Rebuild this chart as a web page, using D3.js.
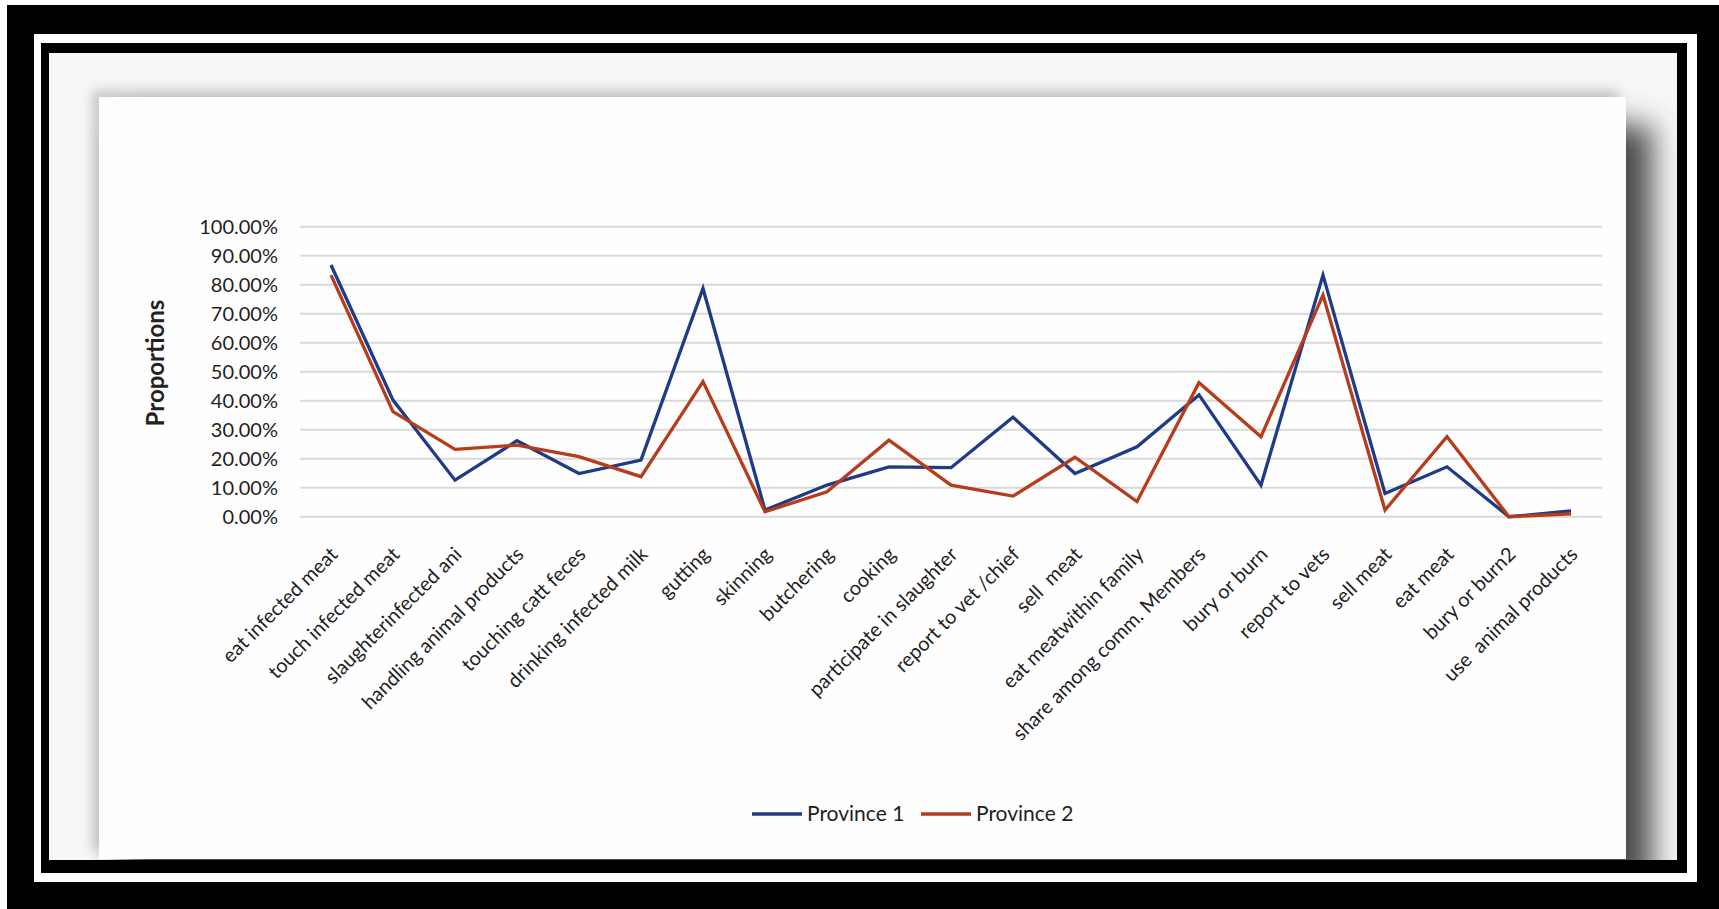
<!DOCTYPE html>
<html lang="en">
<head>
<meta charset="UTF-8">
<title>Proportions by province</title>
<style>
  html, body { margin: 0; padding: 0; background: #fff; }
  svg { display: block; }
  .narrow {
    font-family: Lato, Roboto, "DejaVu Sans Condensed", sans-serif;
    fill: #1f1f1f;
  }
  .axis-title {
    font-family: Lato, "Liberation Sans", Arial, sans-serif;
    font-weight: bold;
    fill: #222;
  }
</style>
</head>
<body>
<svg width="1719" height="909"></svg>
<script src="https://d3js.org/d3.v7.min.js"></script>
<script>
// categories on the x axis
const categories = [
    "eat infected meat", "touch infected meat", "slaughterinfected ani", "handling animal products",
    "touching catt feces", "drinking infected milk", "gutting", "skinning", "butchering", "cooking",
    "participate in slaughter", "report to vet /chief", "sell  meat", "eat meatwithin family",
    "share among comm. Members", "bury or burn", "report to vets", "sell meat", "eat meat",
    "bury or burn2", "use  animal products"
];

// values in percent
const province1 = [86.8, 40.2, 12.6, 26.2, 14.9, 19.5, 78.7, 2.3, 10.9, 17.2, 16.9, 34.3, 14.9, 24.1, 42.0, 10.9, 83.3, 8.0, 17.2, 0.0, 2.0];
const province2 = [83.3, 36.2, 23.2, 24.7, 20.7, 13.8, 46.6, 1.7, 8.6, 26.4, 10.9, 7.1, 20.5, 5.2, 46.2, 27.6, 76.4, 2.3, 27.6, 0.0, 1.0];

const yTicks = [0, 10, 20, 30, 40, 50, 60, 70, 80, 90, 100];
const seriesNames = ["Province 1", "Province 2"];
const seriesColors = ["#1f3a87", "#b63c1c"];

const W = 1719, H = 909;
const svg = d3.select('svg');
const defs = svg.append('defs');

// ---- picture frame ----
svg.append('rect').attr('x', 7).attr('y', 5).attr('width', W - 7).attr('height', H - 5).attr('fill', '#000');
svg.append('rect').attr('x', 34).attr('y', 34).attr('width', 1663).attr('height', 848).attr('fill', '#fff');
svg.append('rect').attr('x', 41).attr('y', 43).attr('width', 1646).attr('height', 830).attr('fill', '#000');
svg.append('rect').attr('x', 49).attr('y', 53).attr('width', 1628).attr('height', 807).attr('fill', '#f7f7f7');

defs.append('clipPath').attr('id', 'inner')
    .append('rect').attr('x', 49).attr('y', 53).attr('width', 1628).attr('height', 807);

const soft = defs.append('filter').attr('id', 'soft')
    .attr('x', '-10%').attr('y', '-10%').attr('width', '120%').attr('height', '120%');
soft.append('feGaussianBlur').attr('stdDeviation', 6);

const heavy = defs.append('filter').attr('id', 'heavy')
    .attr('x', '-10%').attr('y', '-10%').attr('width', '120%').attr('height', '120%');
heavy.append('feGaussianBlur').attr('stdDeviation', 15);

const panel = {x: 99, y: 97, w: 1527, h: 762};
const shade = svg.append('g').attr('clip-path', 'url(#inner)');
shade.append('rect')
    .attr('x', panel.x - 7).attr('y', panel.y - 7).attr('width', panel.w).attr('height', panel.h)
    .attr('fill', '#c8c8c8').attr('filter', 'url(#soft)');
shade.append('rect')
    .attr('x', panel.x + 26).attr('y', panel.y + 28).attr('width', panel.w).attr('height', panel.h)
    .attr('fill', '#4a4a4a').attr('filter', 'url(#heavy)');
shade.append('rect')
    .attr('x', panel.x).attr('y', panel.y).attr('width', panel.w).attr('height', panel.h)
    .attr('fill', '#fefefe');

// ---- chart ----
const plot = {left: 300, right: 1602, top: 226.7, bottom: 516.7};

const x = d3.scaleBand().domain(categories).range([plot.left, plot.right]);
const y = d3.scaleLinear().domain([0, 100]).range([plot.bottom, plot.top]);
const cx = d => x(d) + x.bandwidth() / 2;

// gridlines
svg.append('g').selectAll('line').data(yTicks).enter().append('line')
    .attr('x1', plot.left).attr('x2', plot.right)
    .attr('y1', d => y(d)).attr('y2', d => y(d))
    .attr('stroke', '#d9d9d9').attr('stroke-width', 2);

// y axis labels
const yAxis = d3.axisLeft(y).tickValues(yTicks).tickSize(0).tickPadding(0)
    .tickFormat(d => d.toFixed(2) + '%');
const yG = svg.append('g').attr('transform', `translate(${plot.left - 22},0)`).call(yAxis);
yG.select('.domain').remove();
yG.selectAll('text').attr('class', 'narrow').attr('font-size', 20).attr('font-family', null).attr('fill', null);

// y axis title
svg.append('text').attr('class', 'axis-title')
    .attr('transform', 'translate(164,363) rotate(-90)')
    .attr('text-anchor', 'middle').attr('font-size', 24)
    .text('Proportions');

// x axis labels
const xAxis = d3.axisBottom(x).tickSize(0).tickPadding(0);
const xG = svg.append('g').attr('transform', `translate(0,${plot.bottom})`).call(xAxis);
xG.select('.domain').remove();
xG.selectAll('text')
    .attr('class', 'narrow').attr('font-size', 20).attr('font-family', null).attr('fill', null)
    .style('white-space', 'pre')
    .attr('text-anchor', 'end')
    .attr('y', 0).attr('dy', '0.35em')
    .attr('transform', 'translate(3,34) rotate(-45)');

// lines
const line = d3.line().x((d, i) => cx(categories[i])).y(d => y(d));
[province1, province2].forEach((vals, k) => {
    svg.append('path').datum(vals)
        .attr('d', line)
        .attr('fill', 'none')
        .attr('stroke', seriesColors[k])
        .attr('stroke-width', 3.3)
        .attr('stroke-linejoin', 'miter');
});

// legend
const legendX = [752, 921];
const legendY = 814;
const legend = svg.append('g').selectAll('g').data(seriesNames).enter().append('g')
    .attr('transform', (d, i) => `translate(${legendX[i]},${legendY})`);
legend.append('line').attr('x1', 0).attr('x2', 50).attr('y1', 0).attr('y2', 0)
    .attr('stroke', (d, i) => seriesColors[i]).attr('stroke-width', 3.5);
legend.append('text').attr('class', 'narrow').attr('font-size', 21)
    .attr('x', 55).attr('dy', '0.35em').text(d => d);
</script>
</body>
</html>
